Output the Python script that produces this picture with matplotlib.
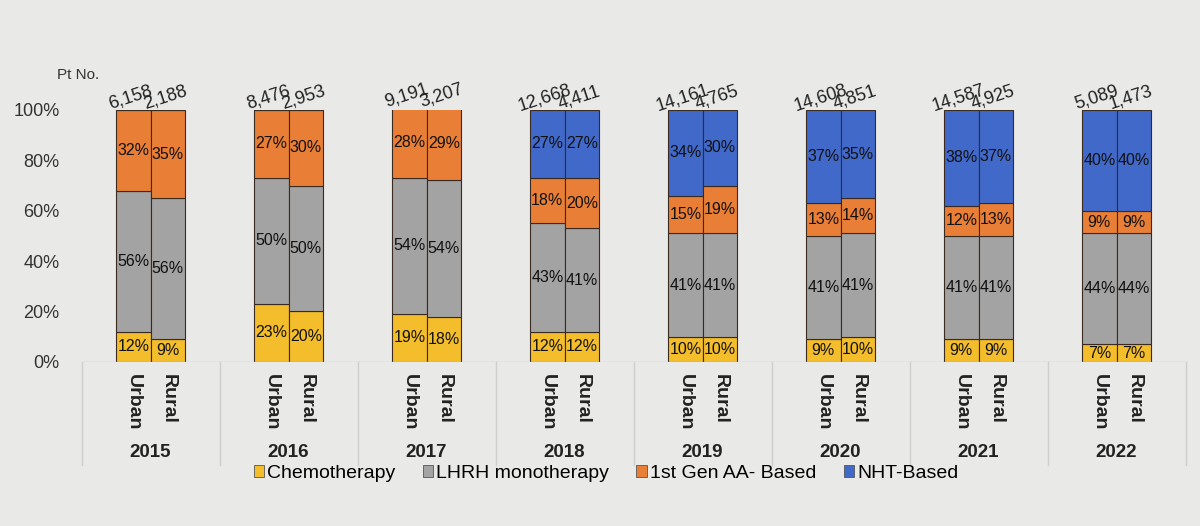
import numpy as np
import matplotlib.pyplot as plt
from matplotlib.patches import Patch

# Treatment mix by year, urban vs rural (% of patients)
years = ['2015', '2016', '2017', '2018', '2019', '2020', '2021', '2022']
areas = ['Urban', 'Rural']
treatments = ['Chemotherapy', 'LHRH monotherapy', '1st Gen AA- Based', 'NHT-Based']

chemo_urban = [12, 23, 19, 12, 10, 9, 9, 7]
chemo_rural = [9, 20, 18, 12, 10, 10, 9, 7]
lhrh_urban = [56, 50, 54, 43, 41, 41, 41, 44]
lhrh_rural = [56, 50, 54, 41, 41, 41, 41, 44]
aa_urban = [32, 27, 28, 18, 15, 13, 12, 9]
aa_rural = [35, 30, 29, 20, 19, 14, 13, 9]
nht_urban = [0, 0, 0, 27, 34, 37, 38, 40]
nht_rural = [0, 0, 0, 27, 30, 35, 37, 40]

pt_urban = ['6,158', '8,476', '9,191', '12,668', '14,161', '14,608', '14,587', '5,089']
pt_rural = ['2,188', '2,953', '3,207', '4,411', '4,765', '4,851', '4,925', '1,473']

colors = ['#F3BD2C', '#A3A3A3', '#E97F36', '#4169C9']
bg = '#E9E9E8'

plt.rcParams['font.family'] = ['Liberation Sans', 'DejaVu Sans']

fig = plt.figure(figsize=(12, 5.26), dpi=100, facecolor=bg)
ax = fig.add_axes([0.068, 0.312, 0.92, 0.479], facecolor=bg)

x = np.arange(len(years))
w = 0.25
series = {
    'Urban': [chemo_urban, lhrh_urban, aa_urban, nht_urban],
    'Rural': [chemo_rural, lhrh_rural, aa_rural, nht_rural],
}
offsets = {'Urban': -w / 2, 'Rural': w / 2}

for area in areas:
    bottom = np.zeros(len(years))
    for vals, col in zip(series[area], colors):
        vals = np.array(vals, dtype=float)
        ax.bar(x + offsets[area], vals, width=w, bottom=bottom, color=col,
               edgecolor='#3a2a20', linewidth=0.8)
        for xi, b, v in zip(x, bottom, vals):
            if v > 0:
                ax.text(xi + offsets[area], b + v / 2, f'{int(v)}%', ha='center',
                        va='center', fontsize=11.5, color='#111111')
        bottom += vals
    labels = pt_urban if area == 'Urban' else pt_rural
    for xi, top, lab in zip(x, bottom, labels):
        ax.annotate(lab, (xi + offsets[area], top), xytext=(0, 3),
                    textcoords='offset points', ha='center', va='bottom',
                    rotation=18, rotation_mode='anchor', fontsize=13,
                    color='#222222', annotation_clip=False)

ax.set_xlim(-0.5, len(years) - 0.5)
ax.set_ylim(0, 100)
ax.set_yticks(range(0, 101, 20))
ax.set_yticklabels([f'{t}%' for t in range(0, 101, 20)], fontsize=13, color='#333333')
ax.tick_params(axis='y', length=0, pad=16)
ax.set_xticks([])
for s in ax.spines.values():
    s.set_visible(False)
ax.axhline(0, color='#c8c8c8', linewidth=1)

ax.text(0.016, 1.14, 'Pt No.', transform=ax.transAxes, ha='right', va='center',
        fontsize=11, color='#333333')

# category axis: area labels, year labels, separators
trans = ax.get_xaxis_transform()
for xi, yr in zip(x, years):
    for area in areas:
        ax.text(xi + offsets[area], -0.05, area, transform=trans, rotation=270,
                ha='center', va='top', fontsize=14, fontweight='bold', color='#222222')
    ax.text(xi, -0.36, yr, transform=trans, ha='center', va='center',
            fontsize=13.5, fontweight='bold', color='#222222')
for b in np.arange(len(years) + 1) - 0.5:
    ax.plot([b, b], [0, -0.41], transform=trans, color='#cfcfcf', linewidth=1,
            clip_on=False)

handles = [Patch(facecolor=c, edgecolor='#555555', linewidth=0.6) for c in colors]
fig.legend(handles, treatments, loc='center', bbox_to_anchor=(0.505, 0.10), ncol=4,
           frameon=False, fontsize=14, handlelength=0.55, handleheight=0.6,
           handletextpad=0.15, columnspacing=1.4)

plt.savefig('out.png', dpi=100, facecolor=bg)
